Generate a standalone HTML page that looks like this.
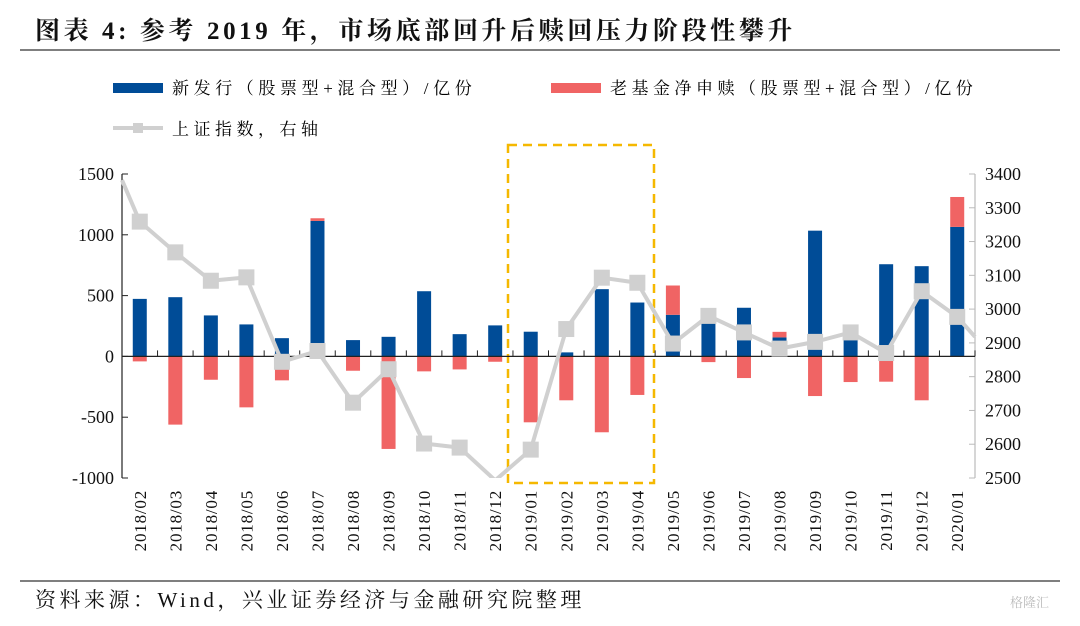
<!DOCTYPE html>
<html><head><meta charset="utf-8"><style>
body{margin:0;width:1080px;height:621px;background:#fff;overflow:hidden;font-family:"Liberation Serif","Noto Serif CJK SC",serif;}
svg text{font-family:"Liberation Serif","Noto Serif CJK SC",serif;}
</style></head><body>
<svg id="c" width="1080" height="621">
<defs><clipPath id="pc"><rect x="100" y="150" width="900" height="328"/></clipPath></defs>
<text x="35" y="39" font-size="25" font-weight="bold" fill="#111" letter-spacing="3.6">图表 4:  参考 2019 年，市场底部回升后赎回压力阶段性攀升</text>
<line x1="20" y1="50" x2="1060" y2="50" stroke="#555" stroke-width="1.5"/>
<g>
<g><rect x="113" y="83" width="50" height="10" fill="#004C97"/><text x="172" y="94" font-size="17" letter-spacing="4.6">新发行（股票型+混合型）/亿份</text></g>
<g><rect x="551" y="83" width="50" height="10" fill="#F06464"/><text x="610" y="94" font-size="17" letter-spacing="4.5">老基金净申赎（股票型+混合型）/亿份</text></g>
<g><line x1="113" y1="128" x2="163" y2="128" stroke="#D0D0D0" stroke-width="4"/><rect x="133" y="123" width="10" height="10" fill="#D0D0D0"/><text x="172" y="135" font-size="17" letter-spacing="4.5">上证指数，右轴</text></g>
</g>
<rect x="508" y="145" width="146" height="338" fill="none" stroke="#F5B800" stroke-width="2.5" stroke-dasharray="9,6"/>
<g id="plot"></g>
<line x1="20" y1="581" x2="1060" y2="581" stroke="#555" stroke-width="1.5"/>
<text x="35" y="607" font-size="21" fill="#111" letter-spacing="3.5">资料来源：Wind，兴业证券经济与金融研究院整理</text>
<text x="1010" y="607" font-size="13" fill="#bbb" font-family="Liberation Sans,Noto Sans CJK SC,sans-serif">格隆汇</text>
</svg>
<script>
const categories=["2018/02","2018/03","2018/04","2018/05","2018/06","2018/07","2018/08","2018/09","2018/10","2018/11","2018/12","2019/01","2019/02","2019/03","2019/04","2019/05","2019/06","2019/07","2019/08","2019/09","2019/10","2019/11","2019/12","2020/01"];
const newIssue=[473,487,337,263,150,1114,134,161,536,183,255,203,33,553,443,342,270,400,156,1034,140,758,742,1065];
const redemption=[-41,-561,-192,-419,-197,22,-118,-761,-123,-107,-44,-542,-361,-624,-317,241,-47,-178,46,-326,-211,-208,-361,246];
const indexVals=[3259,3168,3084,3094,2844,2876,2723,2822,2602,2590,2493,2584,2941,3093,3078,2898,2980,2931,2883,2903,2931,2870,3053,2977];
const indexStart=3382, indexEnd=2918;
const leftTicks=[1500,1000,500,0,-500,-1000];
const rightTicks=[3400,3300,3200,3100,3000,2900,2800,2700,2600,2500];

const NS="http://www.w3.org/2000/svg";
const g=document.getElementById('plot');
const X0=122,X1=975,Y0=174,Y1=478;
const band=(X1-X0)/categories.length;
const xc=i=>X0+band*(i+0.5);
const yL=v=>Y1-(v+1000)/2500*(Y1-Y0);
const yR=v=>Y1-(v-2500)/900*(Y1-Y0);
function mk(t,a,p){const e=document.createElementNS(NS,t);for(const k in a)e.setAttribute(k,a[k]);(p||g).appendChild(e);return e;}
const bw=14;
categories.forEach((c,i)=>{
  const b=newIssue[i];
  let e=mk('rect',{x:xc(i)-bw/2,y:Math.min(yL(b),yL(0)),width:bw,height:Math.abs(yL(b)-yL(0)),fill:'#004C97'});
  
  
  const r=redemption[i];
  let y1,y2;
  if(r>=0){y1=yL(b+r);y2=yL(b);}else{y1=yL(0);y2=yL(r);}
  e=mk('rect',{x:xc(i)-bw/2,y:y1,width:bw,height:y2-y1,fill:'#F06464'});
  
  
});
let ax=mk('g',{});


mk('line',{x1:X0,y1:Y0,x2:X0,y2:Y1,stroke:'#222','stroke-width':1.2},ax);
leftTicks.forEach(v=>{mk('line',{x1:X0,y1:yL(v),x2:X0+6,y2:yL(v),stroke:'#222'},ax);
 const t=mk('text',{x:X0-8,y:yL(v)+6,'text-anchor':'end','font-size':18,fill:'#111'},ax);t.textContent=v;});
ax=mk('g',{});


mk('line',{x1:X1,y1:Y0,x2:X1,y2:Y1,stroke:'#bbb','stroke-width':1.2},ax);
rightTicks.forEach(v=>{mk('line',{x1:X1,y1:yR(v),x2:X1-6,y2:yR(v),stroke:'#bbb'},ax);
 const t=mk('text',{x:X1+10,y:yR(v)+6,'font-size':18,fill:'#111'},ax);t.textContent=v;});
ax=mk('g',{});


mk('line',{x1:X0,y1:yL(0),x2:X1,y2:yL(0),stroke:'#222','stroke-width':1.2},ax);
categories.forEach((c,i)=>{
 mk('line',{x1:X0+band*(i+1),y1:yL(0),x2:X0+band*(i+1),y2:yL(0)-6,stroke:'#222'},ax);
 const t=mk('text',{x:0,y:0,'font-size':17,fill:'#111','text-anchor':'end',transform:`translate(${xc(i)+6},490) rotate(-90)`,'letter-spacing':'0.8'},ax);
 t.textContent=c;
});
const lg=mk('g',{'clip-path':'url(#pc)'});


let pts=[[X0,yR(indexStart)]];
indexVals.forEach((v,i)=>pts.push([xc(i),yR(v)]));
pts.push([X1,yR(indexEnd)]);
let ln=mk('polyline',{points:pts.map(p=>p.join(',')).join(' '),fill:'none',stroke:'#D0D0D0','stroke-width':4,'stroke-linejoin':'round'},lg);


indexVals.forEach((v,i)=>{
 if(v<2500)return;
 const m=mk('rect',{x:xc(i)-8,y:yR(v)-8,width:16,height:16,fill:'#D0D0D0'},lg);
 
 
});
</script>
</body></html>
